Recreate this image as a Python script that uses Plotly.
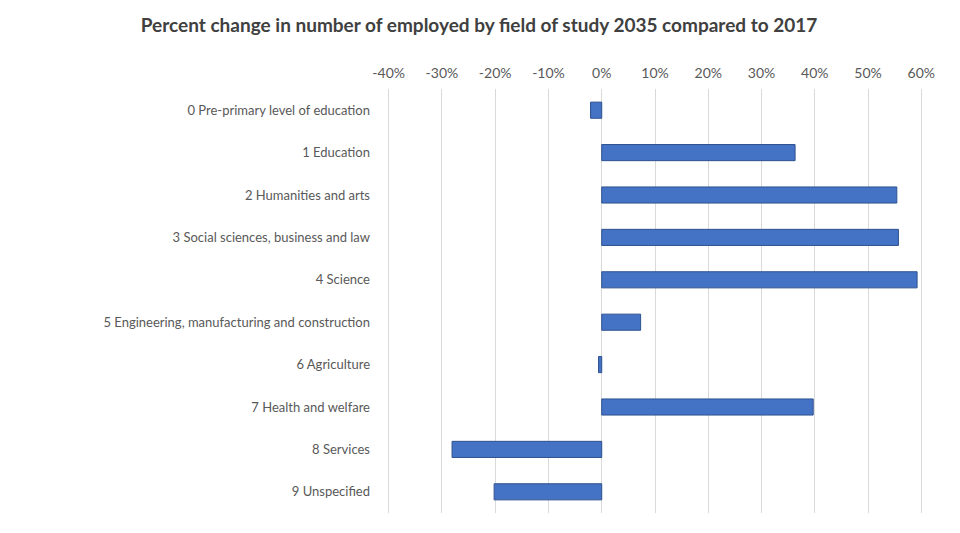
import plotly.graph_objects as go

categories = [
    "0 Pre-primary level of education",
    "1 Education",
    "2 Humanities and arts",
    "3 Social sciences, business and law",
    "4 Science",
    "5 Engineering, manufacturing and construction",
    "6 Agriculture",
    "7 Health and welfare",
    "8 Services",
    "9 Unspecified",
]
values = [-2.1, 36.3, 55.4, 55.7, 59.2, 7.3, -0.6, 39.7, -28.1, -20.2]
tick_vals = [-40, -30, -20, -10, 0, 10, 20, 30, 40, 50, 60]
tick_text = [f"{v}%" for v in tick_vals]

fig = go.Figure(go.Bar(
    x=values, y=categories, orientation="h",
    marker=dict(color="#4472C4", line=dict(color="#2F528F", width=1)),
))

fig.update_layout(
    width=960, height=533,
    paper_bgcolor="white", plot_bgcolor="white",
    margin=dict(l=386, r=36, t=89, b=20),
    bargap=0.62,
    showlegend=False,
    font=dict(family="Lato", color="#595959"),
    title=dict(
        text="<b>Percent change in number of employed by field of study 2035 compared to 2017</b>",
        x=0.499, xanchor="center", xref="container", y=0.953, yanchor="middle",
        font=dict(family="Lato", size=19, color="#404040"),
    ),
    xaxis=dict(
        side="top", range=[-40.5, 60.5],
        tickvals=tick_vals, ticktext=tick_text,
        showgrid=True, gridcolor="#D9D9D9", gridwidth=1,
        zeroline=False, showline=False,
        tickfont=dict(size=14, color="#595959"),
        ticklabelstandoff=7,
    ),
    yaxis=dict(
        autorange="reversed",
        showgrid=False, zeroline=False, showline=False,
        tickfont=dict(size=13, color="#595959"),
        ticklabelstandoff=15,
    ),
)

fig.write_html("out.html")
